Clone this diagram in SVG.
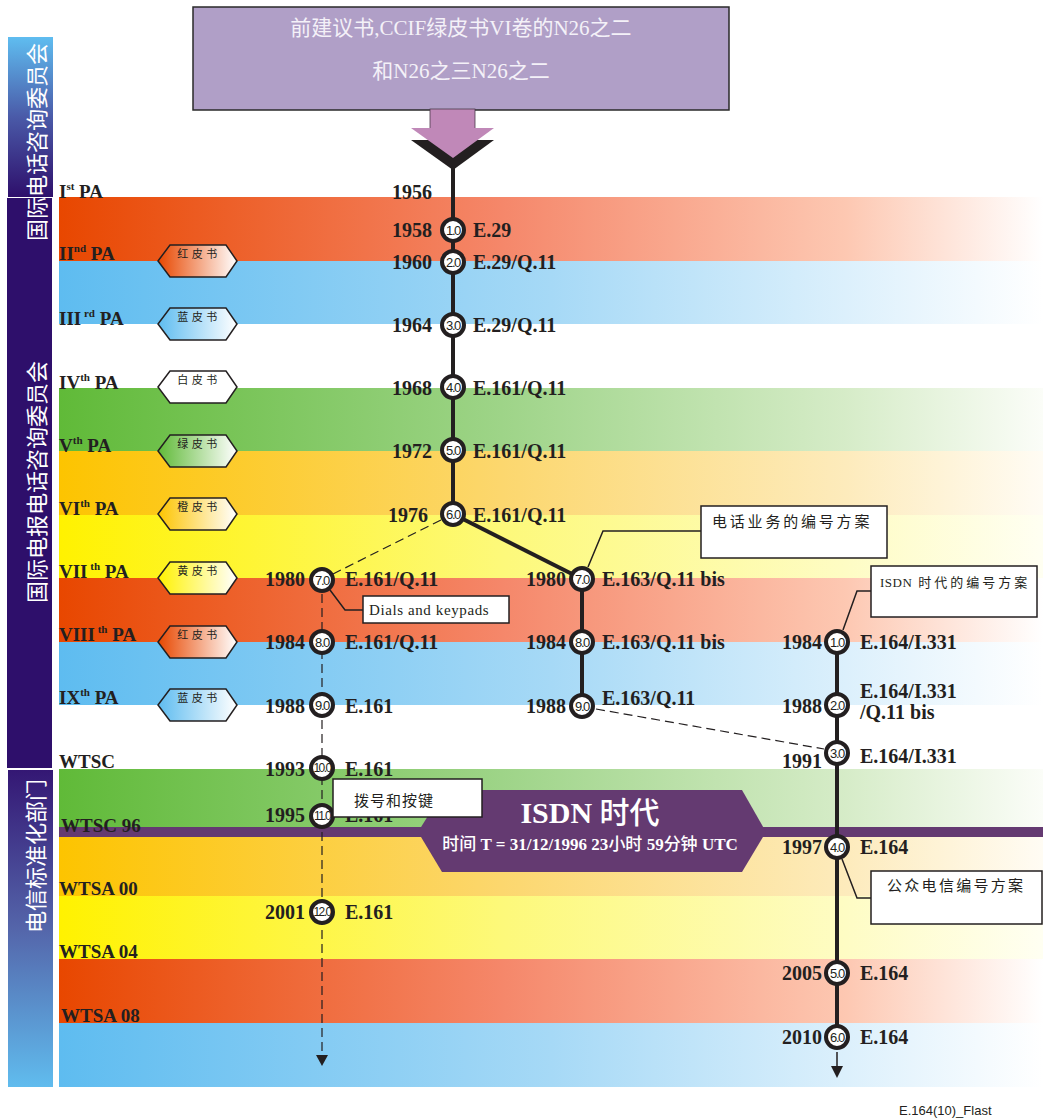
<svg xmlns="http://www.w3.org/2000/svg" width="1043" height="1119" viewBox="0 0 1043 1119">
<defs>
<linearGradient id="gRed" gradientUnits="userSpaceOnUse" x1="59" y1="0" x2="1043" y2="0"><stop offset="0" stop-color="#e84700"/><stop offset="0.45" stop-color="#f5876a"/><stop offset="0.8" stop-color="#fdc8b2"/><stop offset="1" stop-color="#ffffff"/></linearGradient>
<linearGradient id="gBlue" gradientUnits="userSpaceOnUse" x1="59" y1="0" x2="1043" y2="0"><stop offset="0" stop-color="#5ebcf0"/><stop offset="0.5" stop-color="#a6d9f6"/><stop offset="0.8" stop-color="#dcf0fc"/><stop offset="1" stop-color="#ffffff"/></linearGradient>
<linearGradient id="gGreen" gradientUnits="userSpaceOnUse" x1="59" y1="0" x2="1043" y2="0"><stop offset="0" stop-color="#60ba38"/><stop offset="0.45" stop-color="#9ed488"/><stop offset="0.8" stop-color="#d6ecc8"/><stop offset="1" stop-color="#fbfdf8"/></linearGradient>
<linearGradient id="gOrange" gradientUnits="userSpaceOnUse" x1="59" y1="0" x2="1043" y2="0"><stop offset="0" stop-color="#fdc400"/><stop offset="0.45" stop-color="#fcd76e"/><stop offset="0.8" stop-color="#fdebbc"/><stop offset="1" stop-color="#fffcf4"/></linearGradient>
<linearGradient id="gYellow" gradientUnits="userSpaceOnUse" x1="59" y1="0" x2="1043" y2="0"><stop offset="0" stop-color="#fff200"/><stop offset="0.45" stop-color="#fdf97a"/><stop offset="0.8" stop-color="#fefcc4"/><stop offset="1" stop-color="#fffff2"/></linearGradient>
<linearGradient id="hRed" x1="0" y1="0" x2="1" y2="0"><stop offset="0" stop-color="#e84700"/><stop offset="1" stop-color="#ffffff"/></linearGradient>
<linearGradient id="hBlue" x1="0" y1="0" x2="1" y2="0"><stop offset="0" stop-color="#5ebcf0"/><stop offset="1" stop-color="#ffffff"/></linearGradient>
<linearGradient id="hGreen" x1="0" y1="0" x2="1" y2="0"><stop offset="0" stop-color="#60ba38"/><stop offset="1" stop-color="#ffffff"/></linearGradient>
<linearGradient id="hOrange" x1="0" y1="0" x2="1" y2="0"><stop offset="0" stop-color="#fdc400"/><stop offset="1" stop-color="#ffffff"/></linearGradient>
<linearGradient id="hYellow" x1="0" y1="0" x2="1" y2="0"><stop offset="0" stop-color="#fff200"/><stop offset="1" stop-color="#ffffff"/></linearGradient>
<linearGradient id="sTop" x1="0" y1="0" x2="0" y2="1"><stop offset="0" stop-color="#5fbdf0"/><stop offset="0.5" stop-color="#4a5aa8"/><stop offset="1" stop-color="#2e0f6b"/></linearGradient>
<linearGradient id="sBot" x1="0" y1="0" x2="0" y2="1"><stop offset="0" stop-color="#341774"/><stop offset="0.5" stop-color="#5465aa"/><stop offset="1" stop-color="#60bcee"/></linearGradient>
<style>
.yr{font-family:"Liberation Serif","DejaVu Serif",serif;font-weight:bold;font-size:20px;fill:#231f20;text-anchor:end}
.rec{font-family:"Liberation Serif","DejaVu Serif",serif;font-weight:bold;font-size:20px;fill:#231f20}
.pa{font-family:"Liberation Serif","DejaVu Serif",serif;font-weight:bold;font-size:19px;fill:#231f20}
.sup{font-size:11px}
.cn{font-family:"Liberation Sans","DejaVu Sans",sans-serif;font-size:13px;fill:#231f20;text-anchor:middle;letter-spacing:-1.4px}
.cn.w{font-size:12px;letter-spacing:-1.6px}
.circ{fill:#ffffff;stroke:#231f20;stroke-width:4}
.hex{stroke:#231f20;stroke-width:1.5}
.hext{font-family:"Noto Sans CJK SC",sans-serif;font-size:11px;fill:#231f20;text-anchor:middle;letter-spacing:3.5px}
.box{fill:#ffffff;stroke:#231f20;stroke-width:1.5}
.bt{font-family:"Noto Sans CJK SC",sans-serif;font-size:15px;fill:#231f20}
.bts{font-family:"Liberation Serif","DejaVu Serif",serif;font-size:15px;fill:#231f20}
.side{font-family:"Noto Sans CJK SC",sans-serif;font-size:22px;fill:#ffffff;text-anchor:middle}
.solid{stroke:#231f20;stroke-width:4;fill:none}
.dash{stroke:#231f20;stroke-width:1.2;fill:none;stroke-dasharray:9 5}
.lead{stroke:#231f20;stroke-width:1.5;fill:none}
</style>
</defs>
<rect width="1043" height="1119" fill="#ffffff"/>
<g id="bands">
<rect x="59" y="197" width="984" height="64" fill="url(#gRed)"/>
<rect x="59" y="261" width="984" height="63" fill="url(#gBlue)"/>
<rect x="59" y="388" width="984" height="63" fill="url(#gGreen)"/>
<rect x="59" y="451" width="984" height="64" fill="url(#gOrange)"/>
<rect x="59" y="515" width="984" height="63" fill="url(#gYellow)"/>
<rect x="59" y="578" width="984" height="64" fill="url(#gRed)"/>
<rect x="59" y="642" width="984" height="63" fill="url(#gBlue)"/>
<rect x="59" y="769" width="984" height="58" fill="url(#gGreen)"/>
<rect x="59" y="827" width="984" height="10" fill="#643a71"/>
<rect x="59" y="837" width="984" height="59" fill="url(#gOrange)"/>
<rect x="59" y="896" width="984" height="63" fill="url(#gYellow)"/>
<rect x="59" y="959" width="984" height="64" fill="url(#gRed)"/>
<rect x="59" y="1023" width="984" height="64" fill="url(#gBlue)"/>
</g>
<g id="sidebar">
<rect x="8" y="37" width="45" height="160" fill="url(#sTop)"/>
<rect x="7" y="198" width="45" height="570" fill="#2e0f6b"/>
<rect x="8" y="770" width="45" height="317" fill="url(#sBot)"/>
<text class="side" transform="translate(35,142) rotate(-90)" dominant-baseline="central">国际电话咨询委员会</text>
<text class="side" transform="translate(35,482) rotate(-90)" dominant-baseline="central">国际电报电话咨询委员会</text>
<text class="side" transform="translate(34,856) rotate(-90)" dominant-baseline="central">电信标准化部门</text>
</g>
<g id="isdn-banner">
<polygon points="444,790 742,790 766,832 742,872 442,872 418,832" fill="#643a71"/>
<text x="590" y="823" text-anchor="middle" fill="#ffffff" font-weight="bold" font-size="30" font-family="Liberation Serif, Noto Sans CJK SC, serif">ISDN <tspan font-family="Noto Sans CJK SC, sans-serif" font-weight="500">时代</tspan></text>
<text x="590" y="850" text-anchor="middle" fill="#ffffff" font-weight="bold" font-size="17" font-family="Liberation Serif, Noto Sans CJK SC, serif"><tspan font-family="Noto Sans CJK SC, sans-serif" font-weight="500">时间</tspan> T = 31/12/1996 23<tspan font-family="Noto Sans CJK SC, sans-serif" font-weight="500">小时</tspan> 59<tspan font-family="Noto Sans CJK SC, sans-serif" font-weight="500">分钟</tspan>  UTC</text>
</g>
<g id="source-box">
<rect x="193" y="7" width="536" height="103" fill="#b09fc7" stroke="#2a2a2a" stroke-width="1.5"/>
<text x="461" y="35" text-anchor="middle" fill="#f4f1f8" font-size="21" font-family="Liberation Serif, Noto Sans CJK SC, serif">前建议书,CCIF绿皮书VI卷的N26之二</text>
<text x="461" y="78" text-anchor="middle" fill="#f4f1f8" font-size="21" font-family="Liberation Serif, Noto Sans CJK SC, serif">和N26之三N26之二</text>
<polygon points="411,140 494,140 453,170" fill="#231f20"/>
<rect x="430" y="109" width="45" height="20" fill="#c088b8" stroke="#4a3a4a" stroke-width="0.8"/>
<polygon points="411,128 494,128 453,158" fill="#c088b8"/>
<rect x="431" y="110" width="43" height="19" fill="#c088b8"/>
</g>
<g id="connectors">
<line class="solid" x1="453" y1="165" x2="453" y2="514"/>
<line class="solid" x1="453" y1="514" x2="582" y2="579"/>
<line class="solid" x1="582" y1="579" x2="582" y2="706"/>
<line class="solid" x1="837" y1="642" x2="837" y2="1037"/>
<line class="dash" x1="441" y1="520" x2="333" y2="574"/>
<line class="dash" x1="322" y1="580" x2="322" y2="1056"/>
<polygon points="316,1055 328,1055 322,1066" fill="#231f20"/>
<line class="dash" x1="596" y1="709" x2="824" y2="749"/>
<line x1="837" y1="1052" x2="837" y2="1067" stroke="#231f20" stroke-width="1.5"/>
<polygon points="831,1066 843,1066 837,1078" fill="#231f20"/>
<polyline class="lead" points="701,531 603,531 588,567"/>
<polyline class="lead" points="330,590 345,610 363,610"/>
<polyline class="lead" points="871,591 857,591 843,630"/>
<polyline class="lead" points="842,859 857,898 871,898"/>
</g>
<g id="pa-labels">
<text class="pa" x="59" y="198">I<tspan class="sup" dy="-8">st</tspan><tspan dy="8"> PA</tspan></text>
<text class="pa" x="59" y="260">II<tspan class="sup" dy="-8">nd</tspan><tspan dy="8"> PA</tspan></text>
<text class="pa" x="59" y="325">III<tspan class="sup" dy="-8"> rd</tspan><tspan dy="8"> PA</tspan></text>
<text class="pa" x="59" y="389">IV<tspan class="sup" dy="-8">th</tspan><tspan dy="8"> PA</tspan></text>
<text class="pa" x="59" y="452">V<tspan class="sup" dy="-8">th</tspan><tspan dy="8"> PA</tspan></text>
<text class="pa" x="59" y="515">VI<tspan class="sup" dy="-8">th</tspan><tspan dy="8"> PA</tspan></text>
<text class="pa" x="59" y="578">VII<tspan class="sup" dy="-8"> th</tspan><tspan dy="8"> PA</tspan></text>
<text class="pa" x="59" y="641">VIII<tspan class="sup" dy="-8"> th</tspan><tspan dy="8"> PA</tspan></text>
<text class="pa" x="59" y="704">IX<tspan class="sup" dy="-8">th</tspan><tspan dy="8"> PA</tspan></text>
<text class="pa" x="59" y="768">WTSC</text>
<text class="pa" x="61" y="832">WTSC 96</text>
<text class="pa" x="59" y="895">WTSA 00</text>
<text class="pa" x="59" y="958">WTSA 04</text>
<text class="pa" x="61" y="1022">WTSA 08</text>
</g>
<g id="books">
<g id="book-red-1"><polygon class="hex" fill="url(#hRed)" points="158,261 170,245 226,245 237,261 226,277 170,277"/><text class="hext" x="199" y="258">红皮书</text></g>
<g id="book-blue-1"><polygon class="hex" fill="url(#hBlue)" points="158,324 170,308 226,308 237,324 226,340 170,340"/><text class="hext" x="199" y="321">蓝皮书</text></g>
<g id="book-white"><polygon class="hex" fill="#ffffff" points="158,387 170,371 226,371 237,387 226,403 170,403"/><text class="hext" x="199" y="384">白皮书</text></g>
<g id="book-green"><polygon class="hex" fill="url(#hGreen)" points="158,451 170,435 226,435 237,451 226,467 170,467"/><text class="hext" x="199" y="448">绿皮书</text></g>
<g id="book-orange"><polygon class="hex" fill="url(#hOrange)" points="158,514 170,498 226,498 237,514 226,530 170,530"/><text class="hext" x="199" y="511">橙皮书</text></g>
<g id="book-yellow"><polygon class="hex" fill="url(#hYellow)" points="158,578 170,562 226,562 237,578 226,594 170,594"/><text class="hext" x="199" y="575">黄皮书</text></g>
<g id="book-red-2"><polygon class="hex" fill="url(#hRed)" points="158,642 170,626 226,626 237,642 226,658 170,658"/><text class="hext" x="199" y="639">红皮书</text></g>
<g id="book-blue-2"><polygon class="hex" fill="url(#hBlue)" points="158,705 170,689 226,689 237,705 226,721 170,721"/><text class="hext" x="199" y="702">蓝皮书</text></g>
</g>
<g id="main-line">
<text class="yr" x="432" y="199">1956</text>
<g id="n1958"><circle class="circ" cx="453" cy="230" r="11"/><text class="cn" x="453" y="235">1.0</text><text class="yr" x="432" y="237">1958</text><text class="rec" x="473" y="237">E.29</text></g>
<g id="n1960"><circle class="circ" cx="453" cy="262" r="11"/><text class="cn" x="453" y="267">2.0</text><text class="yr" x="432" y="269">1960</text><text class="rec" x="473" y="269">E.29/Q.11</text></g>
<g id="n1964"><circle class="circ" cx="453" cy="325" r="11"/><text class="cn" x="453" y="330">3.0</text><text class="yr" x="432" y="332">1964</text><text class="rec" x="473" y="332">E.29/Q.11</text></g>
<g id="n1968"><circle class="circ" cx="453" cy="387" r="11"/><text class="cn" x="453" y="392">4.0</text><text class="yr" x="432" y="395">1968</text><text class="rec" x="473" y="395">E.161/Q.11</text></g>
<g id="n1972"><circle class="circ" cx="453" cy="450" r="11"/><text class="cn" x="453" y="455">5.0</text><text class="yr" x="432" y="458">1972</text><text class="rec" x="473" y="458">E.161/Q.11</text></g>
<g id="n1976"><circle class="circ" cx="453" cy="514" r="11"/><text class="cn" x="453" y="519">6.0</text><text class="yr" x="428" y="522">1976</text><text class="rec" x="473" y="522">E.161/Q.11</text></g>
</g>
<g id="e161-line">
<g id="a1980"><circle class="circ" cx="322" cy="580" r="11"/><text class="cn" x="322" y="585">7.0</text><text class="yr" x="305" y="586">1980</text><text class="rec" x="345" y="586">E.161/Q.11</text></g>
<g id="a1984"><circle class="circ" cx="322" cy="642" r="11"/><text class="cn" x="322" y="647">8.0</text><text class="yr" x="305" y="649">1984</text><text class="rec" x="345" y="649">E.161/Q.11</text></g>
<g id="a1988"><circle class="circ" cx="322" cy="705" r="11"/><text class="cn" x="322" y="710">9.0</text><text class="yr" x="305" y="713">1988</text><text class="rec" x="345" y="713">E.161</text></g>
<g id="a1993"><circle class="circ" cx="322" cy="768" r="11"/><text class="cn w" x="322" y="772">10.0</text><text class="yr" x="305" y="776">1993</text><text class="rec" x="345" y="776">E.161</text></g>
<g id="a1995"><circle class="circ" cx="322" cy="816" r="11"/><text class="cn w" x="322" y="820">11.0</text><text class="yr" x="305" y="822">1995</text><text class="rec" x="345" y="822">E.161</text></g>
<g id="a2001"><circle class="circ" cx="322" cy="912" r="11"/><text class="cn w" x="322" y="916">12.0</text><text class="yr" x="305" y="919">2001</text><text class="rec" x="345" y="919">E.161</text></g>
</g>
<g id="e163-line">
<g id="b1980"><circle class="circ" cx="582" cy="579" r="11"/><text class="cn" x="582" y="584">7.0</text><text class="yr" x="566" y="586">1980</text><text class="rec" x="602" y="586">E.163/Q.11 bis</text></g>
<g id="b1984"><circle class="circ" cx="582" cy="642" r="11"/><text class="cn" x="582" y="647">8.0</text><text class="yr" x="566" y="649">1984</text><text class="rec" x="602" y="649">E.163/Q.11 bis</text></g>
<g id="b1988"><circle class="circ" cx="582" cy="706" r="11"/><text class="cn" x="582" y="711">9.0</text><text class="yr" x="566" y="713">1988</text><text class="rec" x="602" y="705">E.163/Q.11</text></g>
</g>
<g id="e164-line">
<g id="c1984"><circle class="circ" cx="837" cy="642" r="11"/><text class="cn" x="837" y="647">1.0</text><text class="yr" x="822" y="649">1984</text><text class="rec" x="860" y="649">E.164/I.331</text></g>
<g id="c1988"><circle class="circ" cx="837" cy="705" r="11"/><text class="cn" x="837" y="710">2.0</text><text class="yr" x="822" y="713">1988</text><text class="rec" x="860" y="698">E.164/I.331</text><text class="rec" x="860" y="719">/Q.11 bis</text></g>
<g id="c1991"><circle class="circ" cx="837" cy="753" r="11"/><text class="cn" x="837" y="758">3.0</text><text class="yr" x="822" y="768">1991</text><text class="rec" x="860" y="763">E.164/I.331</text></g>
<g id="c1997"><circle class="circ" cx="837" cy="847" r="11"/><text class="cn" x="837" y="852">4.0</text><text class="yr" x="822" y="854">1997</text><text class="rec" x="860" y="854">E.164</text></g>
<g id="c2005"><circle class="circ" cx="837" cy="973" r="11"/><text class="cn" x="837" y="978">5.0</text><text class="yr" x="822" y="980">2005</text><text class="rec" x="860" y="980">E.164</text></g>
<g id="c2010"><circle class="circ" cx="837" cy="1037" r="11"/><text class="cn" x="837" y="1042">6.0</text><text class="yr" x="822" y="1044">2010</text><text class="rec" x="860" y="1044">E.164</text></g>
</g>
<g id="callouts">
<g id="call-telephony"><rect class="box" x="701" y="506" width="186" height="52"/><text class="bt" x="712" y="527" style="letter-spacing:2.8px">电话业务的编号方案</text></g>
<g id="call-dials"><rect class="box" x="363" y="596" width="146" height="27"/><text class="bts" x="369" y="615" style="letter-spacing:0.6px">Dials and keypads</text></g>
<g id="call-isdn"><rect class="box" x="871" y="566" width="166" height="51"/><text class="bts" x="880" y="587" style="font-size:13px;letter-spacing:0.5px">ISDN<tspan style="font-family:'Noto Sans CJK SC',sans-serif;letter-spacing:3px" dx="6">时代的编号方案</tspan></text></g>
<g id="call-dial-cn"><rect class="box" x="333" y="779" width="149" height="38"/><text class="bt" x="354" y="806" style="letter-spacing:1px">拨号和按键</text></g>
<g id="call-public"><rect class="box" x="871" y="871" width="171" height="53"/><text class="bt" x="887" y="891" style="letter-spacing:2.3px">公众电信编号方案</text></g>
</g>
<text x="899" y="1115" font-family="Liberation Sans, Arial, sans-serif" font-size="13" fill="#231f20">E.164(10)_Flast</text>
</svg>
